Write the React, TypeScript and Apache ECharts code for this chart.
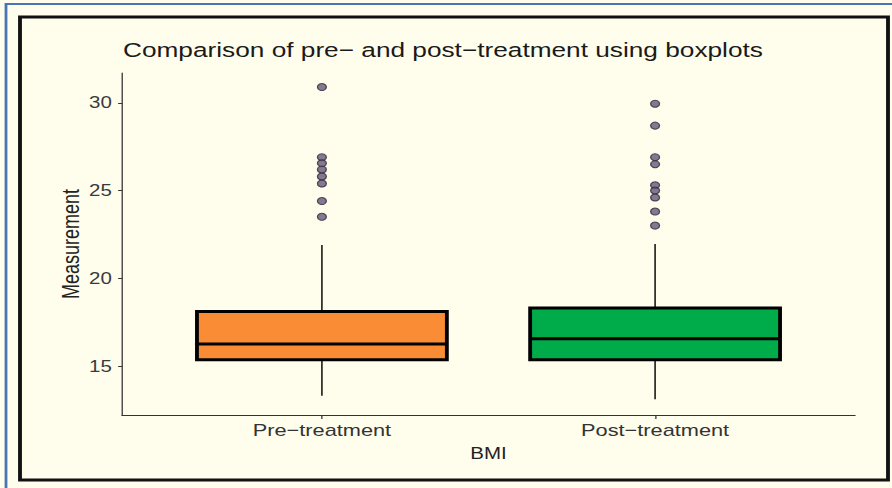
import React, { useEffect, useRef } from "react";
import * as echarts from "echarts";

// ---- data ----
const categories = ["Pre\u2212treatment", "Post\u2212treatment"];
const categoryPositions = [1, 2];
const lowerWhisker = [13.3, 13.1];
const q1 = [15.35, 15.35];
const median = [16.25, 16.55];
const q3 = [18.1, 18.3];
const upperWhisker = [21.9, 21.95];
const preOutliers = [30.9, 26.9, 26.55, 26.2, 25.8, 25.4, 24.4, 23.5];
const postOutliers = [29.95, 28.7, 26.9, 26.5, 25.3, 25.0, 24.6, 23.8, 23.0];
const yTicks = [15, 20, 25, 30];
const boxColors = ["#fb8c36", "#00ab4a"];

// ---- layout ----
const OUT_W = 892;
const OUT_H = 488;
const IN_W = 697; // chart is drawn narrower then stretched horizontally like the reference
const S = OUT_W / IN_W;
const ix = (x: number) => x / S;
const BOX_W = 0.75;
const FONT = "'Liberation Sans', Arial, Helvetica, sans-serif";
const BG = "#fffdec";

export default function App() {
  const ref = useRef<HTMLDivElement>(null);

  useEffect(() => {
    if (!ref.current) return;
    const chart = echarts.init(ref.current, undefined, { renderer: "svg" });

    const boxData = categoryPositions.map((p, i) => [
      p,
      lowerWhisker[i],
      q1[i],
      median[i],
      q3[i],
      upperWhisker[i],
    ]);

    const option: any = {
      animation: false,
      backgroundColor: BG,
      title: {
        text: "Comparison of pre\u2212 and post\u2212treatment using boxplots",
        left: ix(123),
        top: 40,
        padding: 0,
        textStyle: {
          fontFamily: FONT,
          fontSize: 20.5,
          fontWeight: "normal",
          color: "#1a1a1a",
        },
      },
      graphic: [
        {
          type: "rect",
          silent: true,
          shape: { x: ix(6), y: 4, width: ix(960), height: 560 },
          style: { fill: "none", stroke: "#4a74b4", lineWidth: 2.2 },
        },
        {
          type: "rect",
          silent: true,
          shape: { x: ix(20), y: 17, width: ix(868), height: 463 },
          style: { fill: "none", stroke: "#111", lineWidth: 3 },
        },
      ],
      grid: {
        left: ix(122),
        right: ix(OUT_W - 855),
        top: 73,
        bottom: OUT_H - 415,
        containLabel: false,
      },
      xAxis: {
        type: "value",
        min: 0.4,
        max: 2.6,
        name: "BMI",
        nameLocation: "middle",
        nameGap: 30,
        nameMoveOverlap: false,
        nameTextStyle: { fontFamily: FONT, fontSize: 16, color: "#222" },
        axisLine: { show: true, lineStyle: { color: "#333", width: 1.2 } },
        axisTick: {
          show: true,
          length: 4,
          customValues: categoryPositions,
          lineStyle: { color: "#333", width: 1 },
        },
        axisLabel: {
          customValues: categoryPositions,
          margin: 6,
          fontFamily: FONT,
          fontSize: 17,
          color: "#333",
          formatter: (v: number) => categories[Math.round(v) - 1] ?? "",
        },
        splitLine: { show: false },
      },
      yAxis: {
        type: "value",
        min: 12.2,
        max: 31.7,
        name: "Measurement",
        nameLocation: "middle",
        nameGap: 31,
        nameMoveOverlap: false,
        nameRotate: 90,
        nameTextStyle: { fontFamily: FONT, fontSize: 18, color: "#222" },
        axisLine: { show: true, lineStyle: { color: "#333", width: 1 } },
        axisTick: {
          show: true,
          length: 3,
          customValues: yTicks,
          lineStyle: { color: "#333", width: 1 },
        },
        axisLabel: {
          customValues: yTicks,
          margin: 8,
          fontFamily: FONT,
          fontSize: 16,
          color: "#3a3a3a",
        },
        splitLine: { show: false },
      },
      series: [
        {
          type: "custom",
          name: "box",
          data: boxData,
          encode: { x: 0, y: [1, 2, 3, 4, 5] },
          renderItem: (params: any, api: any) => {
            const x = api.value(0);
            const lo = api.coord([x, api.value(1)]);
            const b1 = api.coord([x, api.value(2)]);
            const md = api.coord([x, api.value(3)]);
            const b3 = api.coord([x, api.value(4)]);
            const hi = api.coord([x, api.value(5)]);
            const w = api.size([BOX_W, 0])[0];
            const cx = lo[0];
            return {
              type: "group",
              children: [
                {
                  type: "line",
                  shape: { x1: cx, y1: lo[1], x2: cx, y2: b1[1] },
                  style: { stroke: "#222", lineWidth: 1.3 },
                },
                {
                  type: "line",
                  shape: { x1: cx, y1: hi[1], x2: cx, y2: b3[1] },
                  style: { stroke: "#222", lineWidth: 1.3 },
                },
                {
                  type: "rect",
                  shape: {
                    x: cx - w / 2,
                    y: b3[1],
                    width: w,
                    height: b1[1] - b3[1],
                  },
                  style: {
                    fill: boxColors[params.dataIndex],
                    stroke: "#000",
                    lineWidth: 3,
                  },
                },
                {
                  type: "line",
                  shape: { x1: cx - w / 2, y1: md[1], x2: cx + w / 2, y2: md[1] },
                  style: { stroke: "#000", lineWidth: 3 },
                },
              ],
            };
          },
        },
        {
          type: "scatter",
          name: "Pre outliers",
          data: preOutliers.map((v) => [categoryPositions[0], v]),
          symbol: "circle",
          symbolSize: 7,
          itemStyle: { color: "#65577a", borderColor: "#2c2535", borderWidth: 1 },
        },
        {
          type: "scatter",
          name: "Post outliers",
          data: postOutliers.map((v) => [categoryPositions[1], v]),
          symbol: "circle",
          symbolSize: 7,
          itemStyle: { color: "#65577a", borderColor: "#2c2535", borderWidth: 1 },
        },
      ],
    };

    chart.setOption(option);
    return () => chart.dispose();
  }, []);

  return (
    <div
      style={{
        position: "fixed",
        left: 0,
        top: 0,
        width: OUT_W,
        height: OUT_H,
        background: "#ffffff",
        overflow: "hidden",
      }}
    >
      <div
        ref={ref}
        style={{
          width: IN_W,
          height: OUT_H,
          transform: `scaleX(${S})`,
          transformOrigin: "0 0",
        }}
      />
    </div>
  );
}
